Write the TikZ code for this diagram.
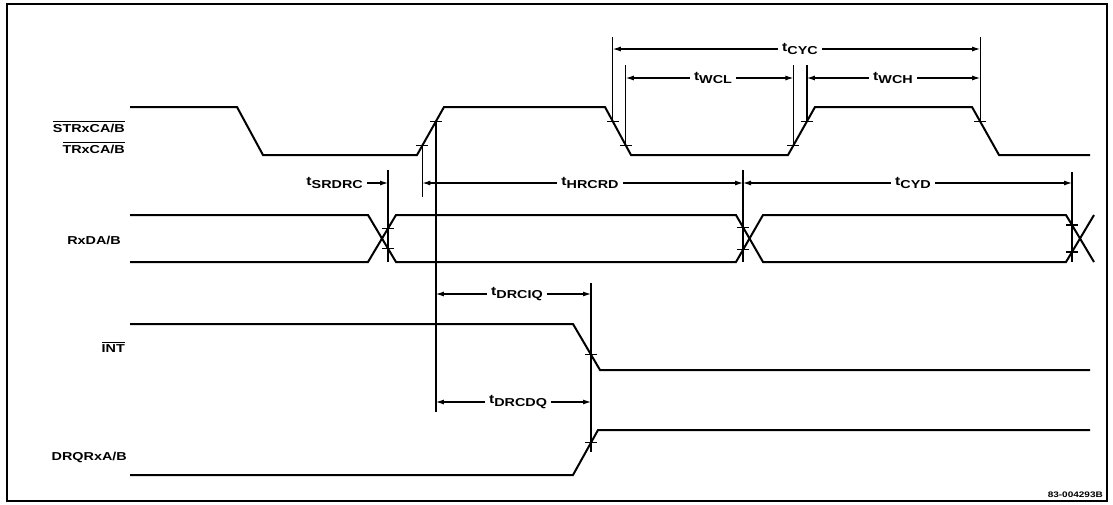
\documentclass[tikz,border=0pt]{standalone}
\usepackage{fontspec}
\newfontfamily\lblfont{Liberation Sans Bold}[FakeStretch=1.25]
\usetikzlibrary{arrows.meta,calc}
\newcommand\ovl[1]{\vbox{\hrule height 0.9pt\kern1.3pt\hbox{#1}}}
\newcommand\tlab[1]{{\fontsize{12.5}{12.5}\selectfont t}\raisebox{-3pt}{\fontsize{11.5}{11.5}\selectfont #1}}
\begin{document}
\begin{tikzpicture}[x=1pt,y=-1pt,
  sig/.style={line width=2pt},
  refl/.style={line width=1.2pt},
  tickm/.style={line width=1.2pt},
  dim/.style={line width=1.1pt,{Latex[length=8pt,width=5pt]}-{Latex[length=8pt,width=5pt]}},
  dimr/.style={line width=1.1pt,-{Latex[length=8pt,width=5pt]}},
  sname/.style={font=\lblfont\fontsize{11.5}{12}\selectfont, anchor=base east, inner sep=0pt},
  tname/.style={font=\lblfont, fill=white, inner xsep=4pt, inner ysep=1pt},
  frame/.style={line width=1.8pt}]
\useasboundingbox (0,0) rectangle (1113,504);
\draw[frame] (7,4) rectangle (1107,501);

% signal names
\node[sname] (nSTR) at (125,132) {\ovl{STRxCA/B}};
\node[sname] (nTR) at (125,153) {\ovl{TRxCA/B}};
\node[sname] (nRX) at (121,244) {RxDA/B};
\node[sname] (nINT) at (125,352) {\ovl{INT}};
\node[sname] (nDRQ) at (127,460) {DRQRxA/B};
\node[font=\lblfont\fontsize{8}{8}\selectfont, anchor=base east, inner sep=0pt] (code) at (1103,497) {83-004293B};

% STRxCA/B
\draw[sig] (130,107) -- (237,107) -- (263,155) -- (417,155) -- (444,107) -- (605,107) -- (631,155) -- (788,155) -- (815,107) -- (972,107) -- (999,155) -- (1090,155);
% RxDA/B
\draw[sig] (130,215) -- (368,215) -- (396,262) -- (736,262) -- (763,215) -- (1066,215) -- (1094,262);
\draw[sig] (130,262) -- (368,262) -- (396,215) -- (736,215) -- (763,262) -- (1066,262) -- (1094,215);
% INT
\draw[sig] (130,324) -- (573,324) -- (600,370) -- (1090,370);
% DRQRxA/B
\draw[sig] (130,475) -- (573,475) -- (598,430) -- (1090,430);

% tick points
\coordinate (k1) at (422.4,145.4);
\coordinate (k2) at (435.9,121.4);
\coordinate (k3) at (612.8,121.4);
\coordinate (k4) at (625.8,145.4);
\coordinate (k5) at (793.4,145.4);
\coordinate (k6) at (806.9,121.4);
\coordinate (k7) at (980.1,121.4);
\coordinate (k8a) at (388,228.4);
\coordinate (k8b) at (388,248.6);
\coordinate (k9a) at (743,227.2);
\coordinate (k9b) at (743,249.8);
\coordinate (k10a) at (1072,225);
\coordinate (k10b) at (1072,252);
\coordinate (k11) at (591,354.7);
\coordinate (k12) at (591,442.6);
\foreach \k in {k1,k2,k3,k4,k5,k6,k7,k8a,k8b,k9a,k9b,k10a,k10b,k11,k12}
  \draw[tickm] ([xshift=-6pt]\k) -- ([xshift=6pt]\k);

% reference verticals
\coordinate (t1) at (422.4,197);
\coordinate (t2) at (435.9,412);
\coordinate (t3) at (612.8,37);
\coordinate (t4) at (625.8,65);
\coordinate (t5) at (793.4,65);
\coordinate (t6) at (806.9,65);
\coordinate (t7) at (980.1,37);
\coordinate (t8) at (388,170);
\coordinate (t9) at (743,170);
\coordinate (t10) at (1072,172);
\coordinate (t11a) at (591,283);
\coordinate (t11b) at (591,452);
\draw[refl] (k1) -- (t1);
\draw[refl] (k2) -- (t2);
\draw[refl] (k3) -- (t3);
\draw[refl] (k4) -- (t4);
\draw[refl] (k5) -- (t5);
\draw[refl] (k6) -- (t6);
\draw[refl] (k7) -- (t7);
\draw[refl] (t8) -- (k8a |- 0,262);
\draw[refl] (t9) -- (k9a |- 0,262);
\draw[refl] (t10) -- (k10a |- 0,262);
\draw[refl] (t11a) -- (t11b);

% row coordinates
\coordinate (rCYC) at (0,49);
\coordinate (rWC) at (0,78);
\coordinate (rHR) at (0,183);
\coordinate (rIQ) at (0,294);
\coordinate (rDQ) at (0,402);

% dimension arrows
\draw[dim] (k3 |- rCYC) -- (k7 |- rCYC);
\node[tname] (lCYC) at (800,49) {\tlab{CYC}};
\draw[dim] (k4 |- rWC) -- (k5 |- rWC);
\node[tname] (lWCL) at (713,78) {\tlab{WCL}};
\draw[dim] (k6 |- rWC) -- (k7 |- rWC);
\node[tname] (lWCH) at (893,78) {\tlab{WCH}};
\draw[dim] (k1 |- rHR) -- (k9a |- rHR);
\node[tname] (lHR) at (590,183) {\tlab{HRCRD}};
\draw[dim] (k9a |- rHR) -- (k10a |- rHR);
\node[tname] (lCYD) at (913,183) {\tlab{CYD}};
\node[tname, anchor=east, inner xsep=1pt] (lSR) at (364,183) {\tlab{SRDRC}};
\draw[dimr] ([xshift=3pt]lSR.east) -- (k8a |- lSR.east);
\draw[dim] (k2 |- rIQ) -- (k11 |- rIQ);
\node[tname] (lIQ) at (517,294) {\tlab{DRCIQ}};
\draw[dim] (k2 |- rDQ) -- (k11 |- rDQ);
\node[tname] (lDQ) at (518,402) {\tlab{DRCDQ}};
\end{tikzpicture}
\end{document}
